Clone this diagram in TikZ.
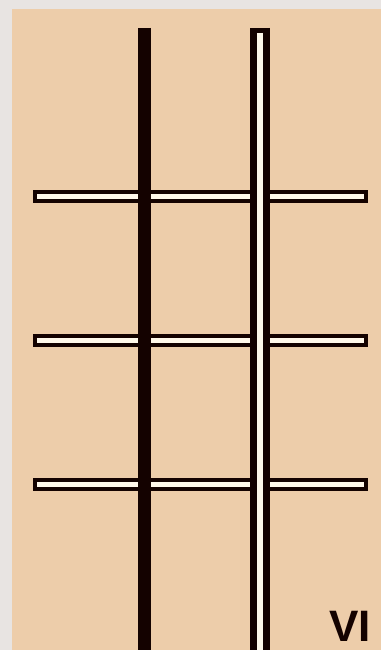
\documentclass[tikz,border=0pt]{standalone}
\usepackage{fontspec}
\setsansfont{Liberation Sans}
\usepackage{xcolor}
\usepackage{tikz}
\definecolor{MarcoGris}{RGB}{232,228,226}
\definecolor{FondoPiel}{RGB}{237,205,170}
\definecolor{NegroBarra}{RGB}{20,2,0}
\definecolor{CremaBarra}{RGB}{255,248,234}
\tikzset{
  barra/.style={line width=#1,NegroBarra},
  hueco/.style={line width=#1,CremaBarra}
}

\begin{document}
\begin{tikzpicture}[x=1pt,y=-1pt]
  \useasboundingbox (0,0) rectangle (381,650);
  \fill[MarcoGris] (0,0) rectangle (381,650);
  \fill[FondoPiel] (12,9) rectangle (381,650);
  % travesanos
  \draw[barra=13pt] (33,196.5)--(368,196.5);
  \draw[hueco=5pt] (37,196.5)--(364,196.5);
  \draw[barra=13pt] (33,340.5)--(368,340.5);
  \draw[hueco=5pt] (37,340.5)--(364,340.5);
  \draw[barra=13pt] (33,484.5)--(368,484.5);
  \draw[hueco=5pt] (37,484.5)--(364,484.5);
  % postes
  \draw[barra=13pt] (144.5,28)--(144.5,650);
  \draw[barra=20pt] (260,28)--(260,650);
  \draw[hueco=6pt] (260,33)--(260,650);
  \node[anchor=base east,inner sep=0pt,text=NegroBarra,font=\sffamily\bfseries\fontsize{44}{44}\selectfont] (etiqueta) at (371,641) {VI};
\end{tikzpicture}
\end{document}
